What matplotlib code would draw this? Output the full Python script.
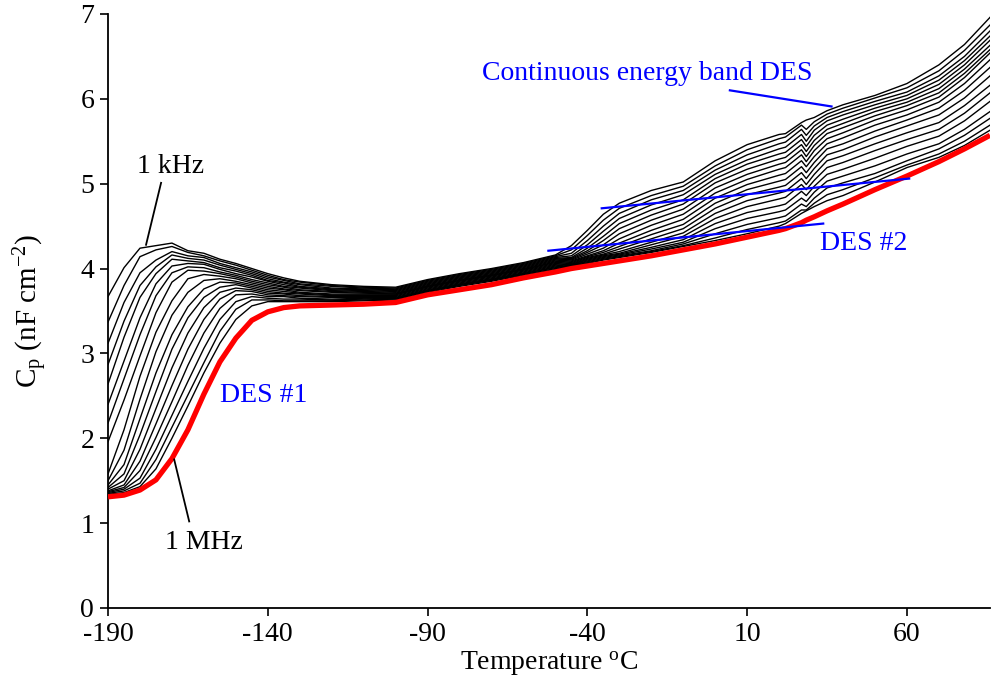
import numpy as np
import matplotlib

matplotlib.use("Agg")
import matplotlib.pyplot as plt

plt.rcParams["font.family"] = ["Liberation Serif", "DejaVu Serif"]
plt.rcParams["mathtext.fontset"] = "custom"
plt.rcParams["mathtext.rm"] = "Liberation Serif"
plt.rcParams["mathtext.it"] = "Liberation Serif:italic"
plt.rcParams["axes.unicode_minus"] = False

# Temperature grid (deg C) shared by all frequency curves
temps = [-190, -185, -180, -175, -170, -165, -160, -155, -150, -145, -140,
         -135, -130, -120, -110, -100, -90, -80, -70, -60, -50, -45, -40,
         -35, -30, -20, -10, 0, 10, 20, 22, 27, 28.5, 31, 35, 40, 50, 60,
         70, 78, 86]

# Cp (nF cm^-2): one row per temperature, columns run 1 kHz ... just below 1 MHz
cp_black = [
    [3.67, 3.37, 3.12, 2.87, 2.64, 2.40, 2.18, 1.96, 1.58, 1.50, 1.45, 1.42, 1.40, 1.38, 1.37, 1.36, 1.35, 1.34],
    [4.01, 3.80, 3.60, 3.38, 3.19, 2.91, 2.70, 2.45, 2.10, 1.86, 1.69, 1.58, 1.50, 1.45, 1.42, 1.40, 1.38, 1.36],
    [4.24, 4.14, 3.95, 3.80, 3.66, 3.42, 3.22, 2.97, 2.73, 2.46, 2.23, 2.04, 1.87, 1.73, 1.62, 1.53, 1.47, 1.43],
    [4.27, 4.22, 4.10, 4.02, 3.94, 3.82, 3.68, 3.48, 3.25, 3.02, 2.77, 2.55, 2.35, 2.17, 2.01, 1.87, 1.75, 1.64],
    [4.30, 4.26, 4.20, 4.16, 4.11, 4.03, 3.95, 3.84, 3.62, 3.45, 3.22, 3.05, 2.83, 2.62, 2.43, 2.27, 2.13, 2.00],
    [4.21, 4.19, 4.15, 4.12, 4.09, 4.06, 4.02, 3.98, 3.88, 3.72, 3.55, 3.42, 3.24, 3.05, 2.86, 2.67, 2.51, 2.38],
    [4.18, 4.15, 4.13, 4.10, 4.07, 4.05, 4.01, 3.97, 3.93, 3.86, 3.76, 3.66, 3.54, 3.40, 3.24, 3.06, 2.89, 2.77],
    [4.11, 4.09, 4.06, 4.04, 4.01, 3.99, 3.96, 3.94, 3.91, 3.88, 3.84, 3.78, 3.72, 3.64, 3.53, 3.40, 3.26, 3.12],
    [4.06, 4.04, 4.01, 3.99, 3.97, 3.94, 3.92, 3.90, 3.88, 3.85, 3.83, 3.81, 3.77, 3.74, 3.69, 3.61, 3.52, 3.40],
    [4.00, 3.98, 3.96, 3.94, 3.92, 3.90, 3.87, 3.85, 3.83, 3.81, 3.79, 3.77, 3.75, 3.73, 3.70, 3.67, 3.63, 3.56],
    [3.94, 3.92, 3.90, 3.88, 3.86, 3.85, 3.83, 3.81, 3.79, 3.77, 3.75, 3.73, 3.71, 3.69, 3.67, 3.65, 3.63, 3.61],
    [3.89, 3.87, 3.86, 3.84, 3.83, 3.81, 3.79, 3.78, 3.76, 3.75, 3.73, 3.71, 3.70, 3.68, 3.67, 3.64, 3.62, 3.61],
    [3.85, 3.84, 3.82, 3.81, 3.79, 3.78, 3.77, 3.75, 3.74, 3.72, 3.71, 3.70, 3.68, 3.67, 3.65, 3.64, 3.62, 3.61],
    [3.81, 3.80, 3.79, 3.77, 3.76, 3.75, 3.74, 3.73, 3.72, 3.70, 3.69, 3.68, 3.67, 3.66, 3.64, 3.63, 3.62, 3.61],
    [3.79, 3.78, 3.77, 3.76, 3.75, 3.74, 3.73, 3.72, 3.71, 3.70, 3.69, 3.68, 3.67, 3.66, 3.65, 3.64, 3.63, 3.62],
    [3.78, 3.77, 3.76, 3.75, 3.74, 3.73, 3.72, 3.71, 3.70, 3.70, 3.69, 3.68, 3.67, 3.66, 3.65, 3.65, 3.64, 3.63],
    [3.87, 3.86, 3.85, 3.84, 3.83, 3.82, 3.81, 3.80, 3.79, 3.79, 3.78, 3.77, 3.76, 3.75, 3.74, 3.74, 3.73, 3.72],
    [3.94, 3.93, 3.92, 3.91, 3.90, 3.89, 3.88, 3.87, 3.86, 3.86, 3.85, 3.84, 3.83, 3.82, 3.81, 3.81, 3.80, 3.79],
    [4.00, 3.99, 3.98, 3.97, 3.96, 3.95, 3.94, 3.93, 3.92, 3.92, 3.91, 3.90, 3.89, 3.88, 3.87, 3.87, 3.86, 3.85],
    [4.07, 4.06, 4.05, 4.04, 4.03, 4.02, 4.01, 4.00, 3.99, 3.99, 3.98, 3.97, 3.96, 3.95, 3.94, 3.94, 3.93, 3.92],
    [4.16, 4.15, 4.14, 4.13, 4.12, 4.11, 4.10, 4.09, 4.08, 4.07, 4.06, 4.05, 4.04, 4.03, 4.02, 4.01, 4.00, 3.99],
    [4.27, 4.22, 4.18, 4.15, 4.13, 4.12, 4.11, 4.10, 4.09, 4.08, 4.07, 4.06, 4.05, 4.05, 4.04, 4.04, 4.03, 4.03],
    [4.45, 4.39, 4.33, 4.28, 4.24, 4.21, 4.19, 4.17, 4.15, 4.14, 4.13, 4.12, 4.11, 4.10, 4.09, 4.08, 4.07, 4.06],
    [4.64, 4.57, 4.50, 4.44, 4.38, 4.33, 4.28, 4.24, 4.21, 4.19, 4.17, 4.16, 4.15, 4.14, 4.13, 4.12, 4.11, 4.10],
    [4.77, 4.71, 4.65, 4.59, 4.53, 4.47, 4.41, 4.35, 4.30, 4.26, 4.23, 4.20, 4.18, 4.17, 4.16, 4.15, 4.14, 4.13],
    [4.92, 4.86, 4.81, 4.75, 4.69, 4.63, 4.57, 4.51, 4.45, 4.40, 4.35, 4.31, 4.28, 4.25, 4.23, 4.21, 4.20, 4.19],
    [5.02, 4.97, 4.92, 4.87, 4.81, 4.76, 4.70, 4.64, 4.58, 4.52, 4.47, 4.42, 4.38, 4.34, 4.31, 4.29, 4.27, 4.26],
    [5.27, 5.21, 5.16, 5.11, 5.06, 5.01, 4.95, 4.89, 4.83, 4.77, 4.71, 4.65, 4.59, 4.53, 4.47, 4.41, 4.36, 4.33],
    [5.46, 5.40, 5.34, 5.28, 5.23, 5.17, 5.11, 5.05, 4.99, 4.93, 4.87, 4.80, 4.73, 4.66, 4.59, 4.52, 4.46, 4.41],
    [5.58, 5.53, 5.47, 5.41, 5.35, 5.29, 5.23, 5.17, 5.10, 5.03, 4.96, 4.89, 4.82, 4.74, 4.67, 4.60, 4.54, 4.50],
    [5.59, 5.55, 5.49, 5.43, 5.37, 5.31, 5.25, 5.19, 5.12, 5.05, 4.98, 4.91, 4.84, 4.76, 4.69, 4.62, 4.56, 4.53],
    [5.72, 5.69, 5.64, 5.58, 5.52, 5.46, 5.40, 5.34, 5.27, 5.20, 5.13, 5.06, 4.99, 4.91, 4.83, 4.76, 4.69, 4.65],
    [5.75, 5.64, 5.57, 5.50, 5.44, 5.38, 5.32, 5.26, 5.20, 5.13, 5.06, 4.99, 4.93, 4.86, 4.79, 4.73, 4.69, 4.68],
    [5.78, 5.73, 5.68, 5.63, 5.57, 5.51, 5.45, 5.39, 5.32, 5.25, 5.18, 5.11, 5.04, 4.97, 4.90, 4.83, 4.77, 4.73],
    [5.86, 5.82, 5.78, 5.74, 5.69, 5.64, 5.59, 5.53, 5.47, 5.41, 5.34, 5.27, 5.19, 5.11, 5.03, 4.95, 4.87, 4.80],
    [5.93, 5.89, 5.85, 5.81, 5.76, 5.71, 5.66, 5.60, 5.54, 5.47, 5.40, 5.33, 5.25, 5.17, 5.09, 5.01, 4.93, 4.86],
    [6.04, 6.01, 5.97, 5.93, 5.89, 5.85, 5.80, 5.75, 5.69, 5.62, 5.55, 5.47, 5.39, 5.30, 5.21, 5.12, 5.07, 5.02],
    [6.18, 6.13, 6.08, 6.04, 6.00, 5.96, 5.92, 5.87, 5.81, 5.75, 5.68, 5.60, 5.52, 5.44, 5.35, 5.27, 5.22, 5.19],
    [6.40, 6.33, 6.27, 6.22, 6.17, 6.12, 6.07, 6.02, 5.96, 5.89, 5.81, 5.72, 5.64, 5.56, 5.47, 5.41, 5.35, 5.31],
    [6.64, 6.57, 6.50, 6.45, 6.40, 6.35, 6.30, 6.25, 6.18, 6.10, 6.01, 5.92, 5.83, 5.74, 5.64, 5.57, 5.50, 5.45],
    [6.96, 6.87, 6.80, 6.74, 6.69, 6.63, 6.58, 6.54, 6.46, 6.37, 6.27, 6.16, 6.07, 5.97, 5.85, 5.77, 5.69, 5.63],
]

# 1 MHz curve
cp_1mhz = [1.31, 1.33, 1.39, 1.51, 1.76, 2.10, 2.52, 2.90, 3.18, 3.39, 3.49,
           3.54, 3.56, 3.57, 3.58, 3.60, 3.69, 3.75, 3.81, 3.89, 3.96, 4.00,
           4.03, 4.06, 4.09, 4.15, 4.22, 4.29, 4.37, 4.45, 4.47, 4.54, 4.57,
           4.61, 4.68, 4.76, 4.93, 5.09, 5.26, 5.41, 5.57]

# guide lines drawn in blue: (T0, T1), (Cp0, Cp1)
des2_upper = ([-35.5, 60.7], [4.71, 5.06])
des2_lower = ([-52.2, 33.8], [4.21, 4.53])
band_pointer = ([4.6, 36.4], [6.10, 5.91])

x_ticks = [-190, -140, -90, -40, 10, 60]
y_ticks = [0, 1, 2, 3, 4, 5, 6, 7]

fig = plt.figure(figsize=(9.92, 6.88), dpi=100)
ax = fig.add_axes([0.1089, 0.1163, 0.8891, 0.8634])

t = np.array(temps)
cp = np.array(cp_black)
for k in range(cp.shape[1]):
    ax.plot(t, cp[:, k], color="black", lw=1.0, zorder=2)
ax.plot(t, cp_1mhz, color="#ff0000", lw=3.8, solid_capstyle="butt", zorder=3)

for xs, ys in (des2_upper, des2_lower, band_pointer):
    ax.plot(xs, ys, color="#0000ff", lw=1.6, zorder=4)

# frequency labels with pointer lines
ax.plot([-173.4, -178.1], [5.01, 4.28], color="black", lw=1.3, zorder=4)
ax.text(-170.6, 5.20, "1 kHz", fontsize=20, ha="center", va="center")
ax.plot([-164.6, -169.3], [1.02, 1.75], color="black", lw=1.3, zorder=4)
ax.text(-160.0, 0.77, "1 MHz", fontsize=20, ha="center", va="center")

ax.text(-141.2, 2.50, "DES #1", fontsize=20, color="#0000ff", ha="center", va="center")
ax.text(46.5, 4.30, "DES #2", fontsize=20, color="#0000ff", ha="center", va="center")
ax.text(-21.2, 6.30, "Continuous energy band DES", fontsize=20, color="#0000ff",
        ha="center", va="center")

ax.set_xlim(-190, 86)
ax.set_ylim(0, 7)
ax.set_xticks(x_ticks)
ax.set_yticks(y_ticks)
ax.tick_params(direction="out", length=6, width=1.2, labelsize=20, pad=4)
for side in ("top", "right"):
    ax.spines[side].set_visible(False)
for side in ("left", "bottom"):
    ax.spines[side].set_linewidth(1.3)

ax.set_xlabel(r"Temperature $^{\rm o}$C", fontsize=20, labelpad=2)
ax.set_ylabel(r"C$_{\rm p}$ (nF cm$^{-2}$)", fontsize=21, labelpad=22)

fig.savefig("out.png", dpi=100)
